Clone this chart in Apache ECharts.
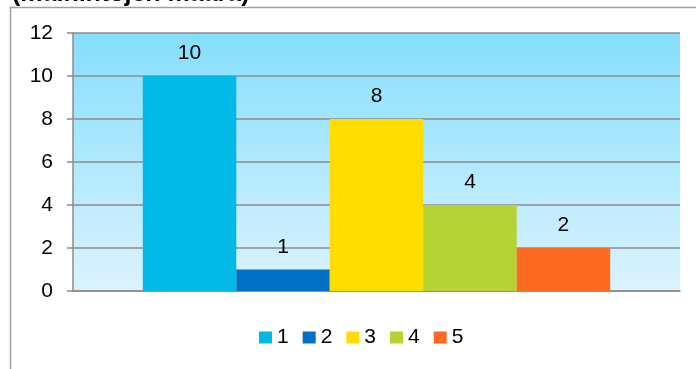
<!DOCTYPE html>
<html><head><meta charset="utf-8">
<script src="https://cdn.jsdelivr.net/npm/echarts@6/dist/echarts.min.js"></script>
<style>html,body{margin:0;padding:0;background:#fff}#c{width:696px;height:369px}</style>
</head><body><div id="c"></div>
<script>
const categories = ['mainintojen määrä'];
const seriesNames = ['1', '2', '3', '4', '5'];
const seriesValues = [10, 1, 8, 4, 2];
const seriesColors = ['#00B9E6', '#0070C4', '#FFDD00', '#B5D334', '#FF6A22'];
const yTicks = [0, 2, 4, 6, 8, 10, 12];

const chart = echarts.init(document.getElementById('c'), null, {renderer: 'canvas'});
const font = 'Liberation Sans, Arial, sans-serif';
chart.setOption({
  animation: false,
  textStyle: {fontFamily: font},
  graphic: [
    {type: 'rect', shape: {x: 10.5, y: 7.5, width: 720, height: 400}, style: {fill: 'none', stroke: '#a0a0a0', lineWidth: 1.5}, silent: true},
    {type: 'text', left: 12, top: -18, style: {text: '(mainintojen määrä)', font: 'bold 25px ' + font, fill: '#000'}}
  ],
  grid: {left: 73, right: 16, top: 33, bottom: 78, show: true, borderWidth: 0,
    backgroundColor: new echarts.graphic.LinearGradient(0, 0, 0, 1, [
      {offset: 0, color: '#86DEFC'}, {offset: 1, color: '#DBF3FE'}])},
  legend: {bottom: 16, left: 254, itemWidth: 13, itemHeight: 12, itemGap: 14, itemTextGap: 5,
    icon: 'rect', textStyle: {fontSize: 21, color: '#000', fontFamily: font},
    data: seriesNames},
  xAxis: {type: 'category', data: categories, axisLabel: {show: false}, axisTick: {show: false},
    axisLine: {lineStyle: {color: '#8c8c8c', width: 1.5}}},
  yAxis: {type: 'value', min: 0, max: 12, interval: 2,
    axisLine: {show: true, lineStyle: {color: '#8c8c8c', width: 1.5}},
    axisTick: {show: true, length: 6, lineStyle: {color: '#8c8c8c', width: 1.5}},
    axisLabel: {fontSize: 21, color: '#000', margin: 20, fontFamily: font,
      formatter: v => yTicks.includes(v) ? String(v) : ''},
    splitLine: {lineStyle: {color: '#8c8c8c', width: 1.5}}},
  series: seriesNames.map((n, i) => ({
    name: n, type: 'bar', data: [seriesValues[i]],
    barGap: '0%', barCategoryGap: '23%',
    itemStyle: {color: seriesColors[i]},
    label: {show: true, position: 'top', distance: 12, fontSize: 21, color: '#000', fontFamily: font}
  }))
});
</script></body></html>
